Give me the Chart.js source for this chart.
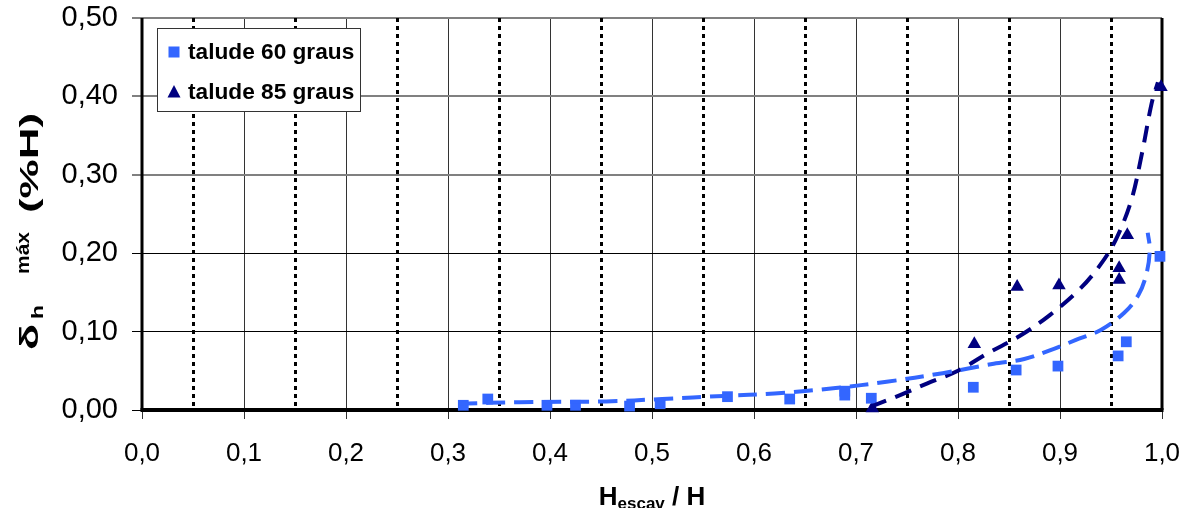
<!DOCTYPE html>
<html><head><meta charset="utf-8">
<script src="https://cdn.jsdelivr.net/npm/chart.js@4.4.1/dist/chart.umd.min.js"></script>
<style>html,body{margin:0;padding:0;background:#fff;}canvas{display:block;}</style>
</head><body>
<canvas id="c" width="1187" height="508"></canvas>
<script>
// ---- data ----
const seriesLabels = ['talude 60 graus', 'talude 85 graus'];
const talude60X = [0.315, 0.339, 0.397, 0.425, 0.478, 0.508, 0.574, 0.635, 0.689, 0.689, 0.715, 0.815, 0.857, 0.898, 0.957, 0.965, 0.998];
const talude60Y = [0.006, 0.014, 0.006, 0.006, 0.005, 0.008, 0.017, 0.014, 0.024, 0.019, 0.015, 0.029, 0.051, 0.056, 0.069, 0.087, 0.196];
const talude85X = [0.716, 0.816, 0.858, 0.899, 0.958, 0.958, 0.966, 0.999];
const talude85Y = [0.002, 0.084, 0.157, 0.159, 0.181, 0.166, 0.223, 0.412];
const trend60X = [0.31, 0.37, 0.455, 0.51, 0.57, 0.62, 0.68, 0.73, 0.785, 0.835, 0.865, 0.89, 0.915, 0.94, 0.963, 0.977, 0.985, 0.988, 0.986];
const trend60Y = [0.008, 0.010, 0.011, 0.014, 0.018, 0.021, 0.028, 0.036, 0.047, 0.059, 0.065, 0.076, 0.089, 0.102, 0.124, 0.147, 0.175, 0.205, 0.226];
const trend85X = [0.714, 0.745, 0.77, 0.80, 0.83, 0.86, 0.89, 0.92, 0.94, 0.955, 0.97, 0.98, 0.99, 0.996];
const trend85Y = [0.004, 0.020, 0.034, 0.050, 0.073, 0.094, 0.121, 0.155, 0.186, 0.218, 0.268, 0.325, 0.392, 0.418];
const xTickLabels = ['0,0','0,1','0,2','0,3','0,4','0,5','0,6','0,7','0,8','0,9','1,0'];
const yTickLabels = ['0,00','0,10','0,20','0,30','0,40','0,50'];
const dottedGridX = [0.05, 0.15, 0.25, 0.35, 0.45, 0.55, 0.65, 0.75, 0.85, 0.95];

const zip = (xs, ys) => xs.map((x, i) => ({x, y: ys[i]}));
const C60 = '#3366FF', C85 = '#000080';
const FONT = "'Liberation Sans', Arial, sans-serif";
Chart.defaults.font.family = FONT;

const noPad = s => { s.paddingTop = 0; s.paddingBottom = 0; s.paddingLeft = 0; s.paddingRight = 0; };

const decor = {
  id: 'decor',
  beforeDatasetsDraw(chart) {
    const {ctx, chartArea: a, scales: {x}} = chart;
    ctx.save();
    ctx.strokeStyle = '#000';
    ctx.lineWidth = 3;
    ctx.setLineDash([4, 4]);
    dottedGridX.forEach(v => {
      const px = Math.round(x.getPixelForValue(v)) + 0.5;
      ctx.beginPath(); ctx.moveTo(px, a.top); ctx.lineTo(px, a.bottom); ctx.stroke();
    });
    ctx.setLineDash([]);
    ctx.lineWidth = 3;
    ctx.beginPath();
    ctx.moveTo(a.left, a.top); ctx.lineTo(a.left, a.bottom);
    ctx.moveTo(a.right, a.top); ctx.lineTo(a.right, a.bottom);
    ctx.stroke();
    ctx.lineWidth = 4;
    ctx.beginPath(); ctx.moveTo(a.left - 1.5, a.bottom); ctx.lineTo(a.right + 1.5, a.bottom); ctx.stroke();
    ctx.restore();
  },
  afterDraw(chart) {
    const {ctx, chartArea: a} = chart;
    ctx.save();
    // legend
    const lx = a.left + 15, ly = a.top + 10, lw = 203, lh = 83;
    ctx.fillStyle = '#fff'; ctx.fillRect(lx, ly, lw, lh);
    ctx.strokeStyle = '#333'; ctx.lineWidth = 1; ctx.strokeRect(lx + 0.5, ly + 0.5, lw, lh);
    const pts = [chart.data.datasets[2], chart.data.datasets[3]];
    pts.forEach((ds, i) => {
      const cy = ly + 24 + i * 40, cx = lx + 17;
      ctx.fillStyle = ds.backgroundColor;
      if (ds.pointStyle === 'rect') ctx.fillRect(cx - 5.5, cy - 5.5, 11, 11);
      else { ctx.beginPath(); ctx.moveTo(cx, cy - 7); ctx.lineTo(cx + 6.5, cy + 5.5); ctx.lineTo(cx - 6.5, cy + 5.5); ctx.closePath(); ctx.fill(); }
      ctx.fillStyle = '#000'; ctx.font = 'bold 22px ' + FONT; ctx.textBaseline = 'middle'; ctx.textAlign = 'left';
      ctx.save(); ctx.translate(lx + 31, cy + 1); ctx.scale(1.03, 1); ctx.fillText(ds.label, 0, 0); ctx.restore();
    });
    // x title
    ctx.fillStyle = '#000'; ctx.textBaseline = 'alphabetic'; ctx.textAlign = 'left';
    const xp = [{t: 'H', s: 26, dy: 0}, {t: 'escav', s: 17, dy: 4}, {t: ' / H', s: 26, dy: 0}];
    let tw = 0;
    xp.forEach(p => { ctx.font = 'bold ' + p.s + 'px ' + FONT; p.w = ctx.measureText(p.t).width; tw += p.w; });
    let sx = (a.left + a.right) / 2 - tw / 2;
    xp.forEach(p => { ctx.font = 'bold ' + p.s + 'px ' + FONT; ctx.fillText(p.t, sx, 505 + p.dy); sx += p.w; });
    // y title (rotated)
    ctx.translate(38, 350); ctx.rotate(-Math.PI / 2);
    const yp = [
      {t: 'δ', s: 25, start: 0, dy: 0, len: 26},
      {t: 'h', s: 17, start: 31, dy: 5, len: 14},
      {t: 'máx', s: 18, start: 76, dy: -9, len: 42},
      {t: '(%H)', s: 25, start: 137, dy: 0, len: 100}
    ];
    yp.forEach(p => {
      ctx.font = 'bold ' + p.s + 'px ' + FONT;
      const w = ctx.measureText(p.t).width;
      ctx.save(); ctx.translate(p.start, p.dy); ctx.scale(p.len / w, 1); ctx.fillText(p.t, 0, 0); ctx.restore();
    });
    ctx.restore();
  }
};

new Chart(document.getElementById('c'), {
  type: 'scatter',
  data: {
    datasets: [
      {label: 'trend 60', data: zip(trend60X, trend60Y), showLine: true, borderColor: C60, borderWidth: 4, borderDash: [19, 9], pointRadius: 0, tension: 0.35, fill: false, order: 0, clip: false},
      {label: 'trend 85', data: zip(trend85X, trend85Y), showLine: true, borderColor: C85, borderWidth: 4, borderDash: [17, 10], pointRadius: 0, tension: 0.35, fill: false, order: 0, clip: false},
      {label: seriesLabels[0], data: zip(talude60X, talude60Y), pointStyle: 'rect', pointRadius: 7.6, backgroundColor: C60, borderColor: C60, borderWidth: 0, order: 1, clip: false},
      {label: seriesLabels[1], data: zip(talude85X, talude85Y), pointStyle: 'triangle', pointRadius: 7.8, backgroundColor: C85, borderColor: C85, borderWidth: 0, order: 1, clip: false}
    ]
  },
  options: {
    responsive: false, animation: false,
    layout: {padding: {left: 0, top: 18, right: 25, bottom: 0}},
    plugins: {legend: {display: false}, tooltip: {enabled: false}},
    scales: {
      x: {
        type: 'linear', min: 0, max: 1,
        afterFit: s => { s.height = 98; noPad(s); },
        ticks: {stepSize: 0.1, autoSkip: false, maxRotation: 0, color: '#000', font: {size: 26}, padding: 19,
          callback: (v, i) => xTickLabels[i]},
        grid: {color: '#333', lineWidth: 1, tickLength: 9},
        border: {display: false}
      },
      y: {
        type: 'linear', min: 0, max: 0.5,
        afterFit: s => { s.width = 142; noPad(s); },
        ticks: {stepSize: 0.1, color: '#000', font: {size: 29}, padding: 14,
          callback: (v, i) => yTickLabels[i]},
        grid: {color: c => (c.tick && c.tick.value > 0.25) ? '#808080' : '#000',
               lineWidth: c => (c.tick && c.tick.value > 0.25) ? 2 : 1, tickLength: 10},
        border: {display: false}
      }
    }
  },
  plugins: [decor]
});
</script>
</body></html>
